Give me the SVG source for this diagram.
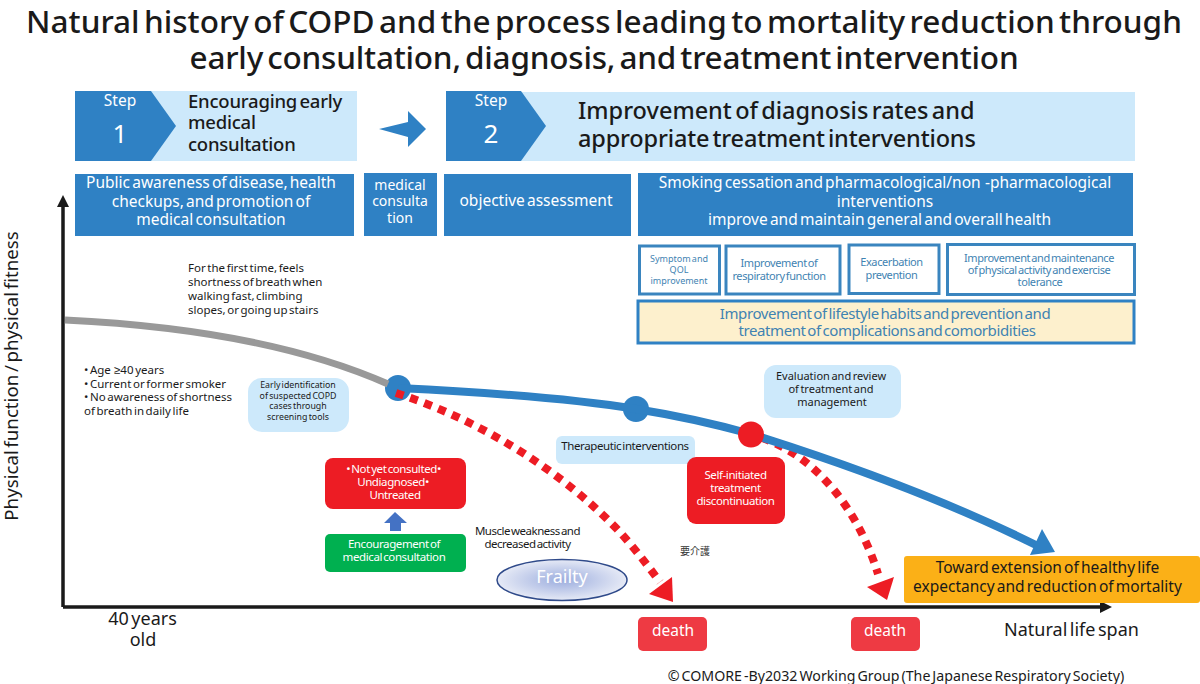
<svg xmlns="http://www.w3.org/2000/svg" width="1200" height="684" viewBox="0 0 1200 684">
<style>
text{font-family:"Noto Sans","Liberation Sans",sans-serif;text-anchor:middle;word-spacing:-0.12em}
.w{fill:#fff}.k{fill:#1a1a1a}
.d{fill:#2f81c4}.l{fill:#cde9fb}.r{fill:#ed1c24}.dr{fill:#ee3a43}
.s{fill:#fff;stroke:#3a85bf;stroke-width:3}
.st{fill:#3f83b2}
.fm{font-size:15.5px}
.t{letter-spacing:-.4px}
.a{text-anchor:start}
.h{font-weight:500}
</style>
<defs>
<radialGradient id="fg"><stop offset="0" stop-color="#9cadde"/><stop offset="1" stop-color="#e6eaf6"/></radialGradient>
</defs>
<g id="title" class="h"><text x="604" y="33" font-size="31.500" class="k" word-spacing="0">Natural history of COPD and the process leading to mortality reduction through</text>
<text x="604" y="69" font-size="31.500" class="k" word-spacing="0" letter-spacing="-.21">early consultation, diagnosis, and treatment intervention</text></g>

<g id="step1"><rect x="75" y="91" width="282" height="70" class="l"/><polygon points="75,91 151,91 176,126 151,161 75,161" class="d"/>
<text x="120" y="106" font-size="15.500" class="w">Step</text><text x="120" y="143" font-size="26" class="w">1</text>
<g font-size="18.500" class="k h" letter-spacing="-.22"><text x="188" y="108" class="a">Encouraging early</text><text x="188" y="129" class="a">medical</text><text x="188" y="151" class="a">consultation</text></g></g>
<g id="step-arrow"><polygon points="379,129 408,122 408,111 426,129 408,147 408,137" class="d"/></g>
<g id="step2"><rect x="446" y="92" width="689" height="69" class="l"/><polygon points="446,91 521,91 546,126 521,161 446,161" class="d"/>
<text x="491" y="106" font-size="15.500" class="w">Step</text><text x="491" y="143" font-size="26" class="w">2</text>
<g font-size="23.500" class="k h"><text x="578" y="119" class="a">Improvement of diagnosis rates and</text><text x="578" y="147" class="a" letter-spacing="-.17">appropriate treatment interventions</text></g></g>

<g id="box-public"><rect x="75" y="174" width="279" height="62" class="d"/><g class="w fm"><text x="211" y="188">Public awareness of disease, health</text><text x="211" y="207">checkups, and promotion of</text><text x="211" y="225">medical consultation</text></g></g>
<g id="box-consult"><rect x="364" y="173" width="73" height="63" class="d"/><g class="w" font-size="14"><text x="400" y="190">medical</text><text x="400" y="206">consulta</text><text x="400" y="223">tion</text></g></g>
<g id="box-objective"><rect x="444" y="174" width="187" height="62" class="d"/><text x="536" y="206" class="w fm">objective assessment</text></g>
<g id="box-smoking"><rect x="638" y="173" width="495" height="63" class="d"/><g class="w fm"><text x="885" y="188">Smoking cessation and pharmacological/non&#160;&#160;-pharmacological</text><text x="885" y="207">interventions</text><text x="879.500" y="225">improve and maintain general and overall health</text></g></g>

<g id="box-symptom"><rect x="639.500" y="246" width="80" height="48" class="s"/><g class="st" font-size="9"><text x="679" y="262">Symptom and</text><text x="679" y="273">QOL</text><text x="679" y="284">improvement</text></g></g>
<g id="box-respiratory"><rect x="726" y="246" width="114" height="48" class="s"/><g class="st t" font-size="11"><text x="779" y="267">Improvement of</text><text x="779" y="279.500">respiratory function</text></g></g>
<g id="box-exacerbation"><rect x="849" y="245" width="90" height="48.500" class="s"/><g class="st t" font-size="11"><text x="891.500" y="266">Exacerbation</text><text x="891.500" y="279">prevention</text></g></g>
<g id="box-activity"><rect x="947.500" y="244.500" width="187" height="50" class="s"/><g class="st t" font-size="11"><text x="1039" y="262">Improvement and maintenance</text><text x="1039" y="274">of physical activity and exercise</text><text x="1040" y="286">tolerance</text></g></g>
<g id="box-lifestyle"><rect x="638" y="301" width="496" height="42" fill="#fdf0cd" stroke="#2f81c4" stroke-width="3"/><g class="st" font-size="15" letter-spacing="-.4"><text x="885" y="318.500">Improvement of lifestyle habits and prevention and</text><text x="887" y="335.500">treatment of complications and comorbidities</text></g></g>

<g id="dot-1"><circle cx="398" cy="388" r="13" class="d"/></g>
<g id="dot-2"><circle cx="636" cy="409" r="13" class="d"/></g>

<g id="connectors" fill="none">
<g id="axes"><path d="M63 607V200M63 607H1106" stroke="#1a1a1a" stroke-width="3.500"/><polygon points="63,195 69,207 57,207" fill="#1a1a1a"/><polygon points="1112,607 1100,601 1100,613" fill="#1a1a1a"/></g>
<path d="M65 320C190 326 300 345 388 384" stroke="#999" stroke-width="7"/>
<path d="M762 438C820 458 860 515 878 574" stroke="#ed1c24" stroke-width="8" stroke-dasharray="8 7"/>
<path d="M398 388C480 392 570 398 636 409C680 416 715 424 751 434C840 462 940 497 1040 547" stroke="#2f81c4" stroke-width="8"/>
<polygon points="1055,552 1042,529 1030,555" fill="#2f81c4"/>
<path d="M396 393C480 420 560 470 617 529C632 545 645 562 660 582" stroke="#ed1c24" stroke-width="8" stroke-dasharray="8 7"/>
<polygon points="672,577 673,602 649,594" fill="#ed1c24"/>
<polygon points="894,577 887,600 867,587" fill="#ed1c24"/>
<polygon points="395,512 407,523 401,523 401,531 390,531 390,523 384,523" fill="#4472c4"/>
</g>
<g id="dot-3"><circle cx="751" cy="434.500" r="13" class="r"/></g>

<g id="label-first-time" class="k" font-size="11.500"><text x="188" y="272" class="a">For the first time, feels</text><text x="188" y="286" class="a">shortness of breath when</text><text x="188" y="300" class="a">walking fast, climbing</text><text x="188" y="314" class="a">slopes, or going up stairs</text></g>
<g id="label-age" class="k" font-size="11.500"><text x="84" y="374" class="a">• Age&#160;&#160;≥40 years</text><text x="84" y="388" class="a">• Current or former smoker</text><text x="84" y="401" class="a">• No awareness of shortness</text><text x="84" y="415" class="a">of breath in daily life</text></g>
<g id="box-early"><rect x="248" y="378" width="101" height="54" rx="14" class="l"/><g class="k" font-size="8.800"><text x="298" y="388">Early identification</text><text x="298" y="398.500">of suspected COPD</text><text x="298" y="409">cases through</text><text x="298" y="419.500">screening tools</text></g></g>
<g id="box-therapeutic"><rect x="556" y="436" width="139" height="28" rx="6" class="l"/><text x="625" y="450" class="k t" font-size="11.500">Therapeutic interventions</text></g>
<g id="box-evaluation"><rect x="764" y="365" width="137" height="53" rx="12" class="l"/><g class="k" font-size="11"><text x="831" y="380">Evaluation and review</text><text x="831" y="393">of treatment and</text><text x="832" y="406">management</text></g></g>
<g id="box-notyet"><rect x="325" y="458" width="141" height="51" rx="8" class="r"/><g class="w t" font-size="11.500"><text x="393.500" y="473">• Not yet consulted•</text><text x="393" y="486">Undiagnosed•</text><text x="395" y="498.500">Untreated</text></g></g>
<g id="box-encourage"><rect x="325" y="534" width="141" height="38" rx="5" fill="#00b050"/><g class="w t" font-size="11.500"><text x="394" y="548">Encouragement of</text><text x="394" y="561">medical consultation</text></g></g>
<g id="box-selfinit"><rect x="687" y="457" width="98" height="67" rx="9" class="r"/><g class="w t" font-size="11.500"><text x="735.500" y="479">Self-initiated</text><text x="735.500" y="492">treatment</text><text x="735.500" y="505">discontinuation</text></g></g>
<g id="label-muscle" class="k" font-size="11.500" letter-spacing="-.5"><text x="527.500" y="535">Muscle weakness and</text><text x="527.500" y="548">decreased activity</text></g>
<g id="label-care"><text x="695" y="555" font-size="10" fill="#333" style="font-family:'Noto Sans CJK JP','Noto Sans',sans-serif">要介護</text></g>
<g id="frailty"><ellipse cx="562" cy="580" rx="65" ry="20.500" fill="url(#fg)" stroke="#2f4a8a" stroke-width="1.500"/><text x="562" y="583" font-size="18" class="w">Frailty</text></g>
<g id="box-goal"><rect x="904" y="556" width="296" height="47" rx="3" fill="#fbb017"/><g class="k" font-size="15.500"><text x="1047.500" y="573">Toward extension of healthy life</text><text x="1047.500" y="592">expectancy and reduction of mortality</text></g></g>
<g id="death-1"><rect x="638" y="617" width="69" height="34" rx="5" class="dr"/><text x="673" y="636" class="w fm">death</text></g>
<g id="death-2"><rect x="851" y="617" width="69" height="34" rx="5" class="dr"/><text x="885" y="636" class="w fm">death</text></g>
<g id="axis-labels"><text x="142.500" y="625" font-size="18" class="k">40 years</text><text x="143" y="646" font-size="18" class="k">old</text>
<text x="1071.500" y="636" font-size="18" class="k">Natural life span</text>
<text transform="translate(18 376) rotate(-90)" font-size="18.700" class="k">Physical function / physical fitness</text></g>
<g id="credit"><text x="896" y="681" font-size="14.200" class="k">© COMORE -By2032 Working Group (The Japanese Respiratory Society)</text></g>
</svg>
